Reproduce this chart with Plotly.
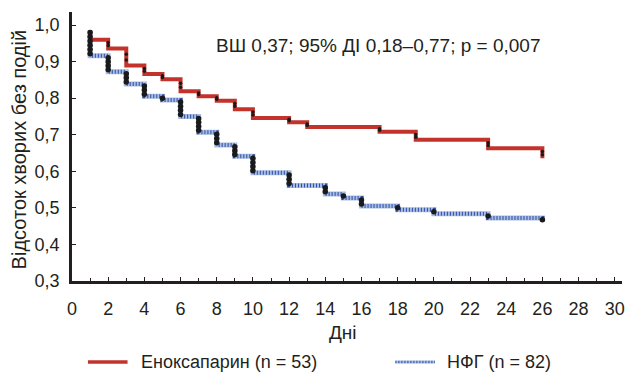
import plotly.graph_objects as go

# Kaplan-Meier step data (day, survival fraction)
enox_days = [1, 1, 2, 3, 4, 5, 6, 7, 8, 9, 10, 12, 13, 17, 19, 23, 26]
enox_surv = [0.985, 0.96, 0.936, 0.889, 0.866, 0.852, 0.819, 0.805, 0.793, 0.77, 0.746,
             0.734, 0.721, 0.708, 0.686, 0.663, 0.636]
nfg_days = [1, 1, 2, 3, 4, 5, 6, 7, 8, 9, 10, 12, 14, 15, 16, 18, 20, 23, 26]
nfg_surv = [0.985, 0.916, 0.872, 0.839, 0.805, 0.795, 0.75, 0.707, 0.672, 0.641, 0.596,
            0.561, 0.538, 0.527, 0.505, 0.495, 0.484, 0.472, 0.463]

enox_name = "Еноксапарин (n = 53)"
nfg_name = "НФГ (n = 82)"
stats_text = "ВШ 0,37; 95% ДІ 0,18–0,77; p = 0,007"
x_title = "Дні"
y_title = "Відсоток хворих без подій"
x_ticks = list(range(0, 31, 2))
y_ticks = [0.3, 0.4, 0.5, 0.6, 0.7, 0.8, 0.9, 1.0]
y_ticktext = ["0,3", "0,4", "0,5", "0,6", "0,7", "0,8", "0,9", "1,0"]

RED = "#c3332b"
LIGHTBLUE = "#a9bde3"
DARKBLUE = "#2f4fa8"
AX = "#231f20"
FONT = "Liberation Sans, Arial, sans-serif"
FS = 18


def step_xy(days, surv):
    xs, ys = [], []
    prev = None
    for d, s in zip(days, surv):
        if prev is not None:
            xs.append(d); ys.append(prev)
        xs.append(d); ys.append(s)
        prev = s
    return xs, ys


def drop_dots(days, surv, spacing=0.012, fixed=None):
    dx, dy = [], []
    prev = None
    for d, s in zip(days, surv):
        if prev is not None:
            top, bot = prev, s
            drop = top - bot
            if fixed:
                for k in range(fixed):
                    dx.append(d); dy.append(top - drop * (k + 1) / (fixed + 1))
            else:
                n = max(1, int(round(drop / spacing)))
                for k in range(n):
                    dx.append(d); dy.append(top - drop * (k + 0.5) / n)
        prev = s
    return dx, dy


fig = go.Figure()

ex, ey = step_xy(enox_days, enox_surv)
nx, ny = step_xy(nfg_days, nfg_surv)

fig.add_trace(go.Scatter(x=nx, y=ny, mode="lines", line=dict(color=LIGHTBLUE, width=5),
                         showlegend=False, hoverinfo="skip"))
fig.add_trace(go.Scatter(x=nx, y=ny, mode="lines", line=dict(color=DARKBLUE, width=4, dash="1px,2px"),
                         showlegend=False, hoverinfo="skip"))
fig.add_trace(go.Scatter(x=ex, y=ey, mode="lines", line=dict(color=RED, width=4),
                         showlegend=False, hoverinfo="skip"))

bdx, bdy = drop_dots(nfg_days, nfg_surv)
fig.add_trace(go.Scatter(x=bdx, y=bdy, mode="markers", marker=dict(color="#1a1a1a", size=5.5),
                         showlegend=False, hoverinfo="skip"))
rdx, rdy = drop_dots(enox_days, enox_surv, fixed=2)
fig.add_trace(go.Scatter(x=rdx, y=rdy, mode="markers", marker=dict(color="#1a1a1a", size=3.5),
                         showlegend=False, hoverinfo="skip"))

axis_common = dict(showgrid=False, zeroline=False, showline=True, linecolor=AX, linewidth=2.5,
                   ticks="inside", ticklen=4, tickwidth=1, tickcolor=AX,
                   tickfont=dict(family=FONT, size=FS, color=AX))

fig.update_xaxes(range=[0, 30.4], tickvals=x_ticks, ticktext=[str(t) for t in x_ticks],
                 minor=dict(ticks="inside", ticklen=3, tickwidth=1, tickcolor=AX, dtick=1),
                 ticklabelstandoff=10, **axis_common)
fig.update_yaxes(range=[0.3, 1.0356], tickvals=y_ticks, ticktext=y_ticktext, ticklabelstandoff=6,
                 **axis_common)

fig.add_annotation(x=15, y=-0.19, xref="x", yref="paper", text=x_title, showarrow=False,
                   font=dict(family=FONT, size=19, color=AX), yanchor="middle")
fig.add_annotation(x=-0.096, y=0.49, xref="paper", yref="paper", text=y_title, showarrow=False,
                   textangle=-90, font=dict(family=FONT, size=20, color=AX),
                   xanchor="center", yanchor="middle")
fig.add_annotation(x=0.557, y=0.877, xref="paper", yref="paper", text=stats_text, showarrow=False,
                   font=dict(family=FONT, size=19, color=AX), xanchor="center", yanchor="middle")

# legend (manual)
leg_y = -0.301
fig.add_shape(type="line", xref="paper", yref="paper", x0=0.029, x1=0.101, y0=leg_y, y1=leg_y,
              line=dict(color=RED, width=3.5))
fig.add_annotation(x=0.121, y=leg_y, xref="paper", yref="paper", text=enox_name, showarrow=False,
                   xanchor="left", yanchor="middle", font=dict(family=FONT, size=FS, color=AX))
fig.add_shape(type="line", xref="paper", yref="paper", x0=0.588, x1=0.660, y0=leg_y, y1=leg_y,
              line=dict(color=LIGHTBLUE, width=3))
fig.add_shape(type="line", xref="paper", yref="paper", x0=0.588, x1=0.660, y0=leg_y, y1=leg_y,
              line=dict(color=DARKBLUE, width=2.5, dash="1px,2px"))
fig.add_annotation(x=0.678, y=leg_y, xref="paper", yref="paper", text=nfg_name, showarrow=False,
                   xanchor="left", yanchor="middle", font=dict(family=FONT, size=FS, color=AX))

fig.update_layout(width=629, height=372, margin=dict(l=72, r=4, t=12, b=91),
                  plot_bgcolor="white", paper_bgcolor="white", showlegend=False)

fig.write_html("out.html")
